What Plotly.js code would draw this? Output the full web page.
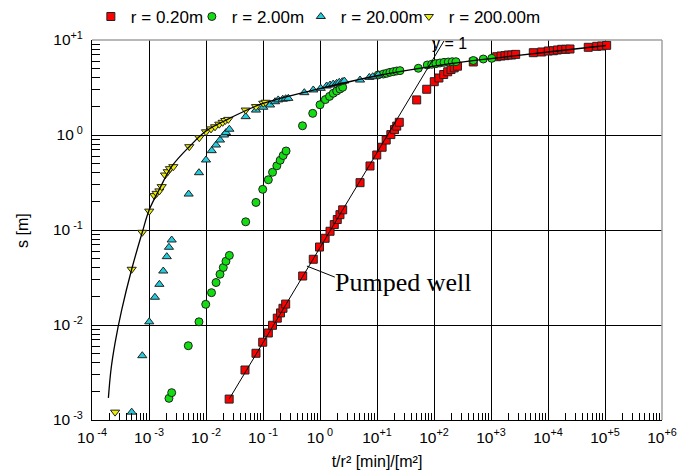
<!DOCTYPE html>
<html><head><meta charset="utf-8">
<script src="https://cdn.plot.ly/plotly-3.0.1.min.js"></script>
<style>html,body{margin:0;padding:0;background:#fff}#chart{width:678px;height:470px}</style>
</head><body><div id="chart"></div>
<script>
// r = 0.20 m (pumped well)
const redX = [0.0255, 0.0483, 0.0753, 0.0989, 0.124, 0.147, 0.178, 0.203, 0.224, 0.25, 0.497, 0.762, 0.98, 1.23, 1.50, 1.78, 2.01, 2.24, 2.50, 5.04, 7.54, 9.91, 12.3, 14.5, 17.5, 20.3, 22.2, 24.6, 49.7, 74.5, 101, 122, 148, 174, 199, 226, 258, 489, 1260, 1500, 1760, 2010, 2310, 2710, 5520, 7750, 10100, 12400, 14600, 17400, 20500, 24300, 50900, 71500, 87500, 107000];
const redY = [0.00166, 0.00336, 0.00504, 0.00659, 0.00824, 0.00993, 0.0118, 0.0134, 0.015, 0.0166, 0.0328, 0.0492, 0.0662, 0.0818, 0.097, 0.114, 0.129, 0.145, 0.163, 0.315, 0.472, 0.616, 0.743, 0.885, 1.01, 1.14, 1.24, 1.36, 2.34, 3.03, 3.64, 3.98, 4.33, 4.63, 4.89, 5.09, 5.30, 5.87, 6.67, 6.79, 6.84, 6.95, 6.95, 7.06, 7.35, 7.48, 7.66, 7.71, 7.85, 7.98, 7.98, 8.04, 8.38, 8.58, 8.65, 8.79];
// r = 2.00 m
const greenX = [0.00224, 0.0025, 0.00489, 0.00753, 0.00989, 0.0125, 0.015, 0.0176, 0.0201, 0.0224, 0.0257, 0.0497, 0.0753, 0.0989, 0.124, 0.147, 0.175, 0.2, 0.226, 0.254, 0.493, 0.745, 1.0, 1.24, 1.47, 1.71, 1.96, 2.24, 2.50, 10.5, 12.9, 14.8, 16.9, 19.3, 22.2, 25.3, 53.1, 76.2, 91.2, 108, 127, 150, 178, 209, 243, 489, 733, 1030];
const greenY = [0.00169, 0.00194, 0.00605, 0.0108, 0.0165, 0.0219, 0.028, 0.0342, 0.0403, 0.0469, 0.054, 0.122, 0.195, 0.268, 0.338, 0.405, 0.474, 0.542, 0.608, 0.679, 1.25, 1.69, 2.08, 2.36, 2.55, 2.75, 2.90, 3.05, 3.18, 4.29, 4.38, 4.46, 4.57, 4.64, 4.72, 4.76, 5.04, 5.46, 5.55, 5.64, 5.73, 5.82, 5.87, 5.91, 5.91, 6.08, 6.31, 6.41];
// r = 20.00 m
const cyanX = [0.000497, 0.000762, 0.00101, 0.00127, 0.00152, 0.00178, 0.00205, 0.00224, 0.0025, 0.00496, 0.00753, 0.01, 0.0126, 0.015, 0.0176, 0.0207, 0.0224, 0.0257, 0.0497, 0.0753, 0.101, 0.133, 0.163, 0.185, 0.222, 0.25, 0.278, 0.531, 0.762, 1.03, 1.31, 1.50, 1.71, 1.96, 2.18, 2.46, 2.67, 5.04, 7.33, 8.41, 10.5];
const cyanY = [0.00121, 0.00475, 0.0108, 0.0196, 0.0268, 0.037, 0.0524, 0.0658, 0.0785, 0.239, 0.401, 0.546, 0.684, 0.785, 0.885, 1.0, 1.06, 1.15, 1.56, 1.83, 1.96, 2.07, 2.24, 2.34, 2.38, 2.41, 2.43, 2.79, 2.98, 3.10, 3.28, 3.36, 3.44, 3.50, 3.59, 3.64, 3.70, 3.79, 4.04, 4.11, 4.29];
// r = 200.00 m
const yellowX = [0.000254, 0.000497, 0.000762, 0.00101, 0.00124, 0.00136, 0.00152, 0.00167, 0.00191, 0.00213, 0.00233, 0.00267, 0.00509, 0.00762, 0.01, 0.01225, 0.0144, 0.0171, 0.0196, 0.0218, 0.0246, 0.0497, 0.0753, 0.101, 0.111];
const yellowY = [0.00121, 0.0386, 0.0946, 0.158, 0.23, 0.243, 0.258, 0.286, 0.379, 0.411, 0.442, 0.464, 0.753, 0.937, 1.08, 1.16, 1.22, 1.30, 1.36, 1.42, 1.46, 1.83, 1.99, 2.16, 2.21];
// type curve
const curveX = [0.000194, 0.000215, 0.000254, 0.000332, 0.000497, 0.000762, 0.00101, 0.00156, 0.00254, 0.00504, 0.01, 0.0243, 0.1, 1, 10.4, 100, 1000, 10000, 104000];
const curveY = [0.00171, 0.00336, 0.00647, 0.0144, 0.0386, 0.0946, 0.163, 0.277, 0.472, 0.748, 1.10, 1.47, 2.15, 3.08, 4.23, 5.32, 6.38, 7.48, 8.75];
// unit-slope line through pumped-well early data
const slopeX = [0.0255, 150];
const slopeY = [0.00166, 9.8];

const seriesNames = ['r = 0.20m', 'r = 2.00m', 'r = 20.00m', 'r = 200.00m'];
const xTickVals = [1e-4, 1e-3, 1e-2, 1e-1, 1, 10, 100, 1e3, 1e4, 1e5, 1e6];
const xTickText = ['10<sup> -4</sup>', '10<sup> -3</sup>', '10<sup> -2</sup>', '10<sup> -1</sup>', '10<sup> 0</sup>', '10<sup>+1</sup>', '10<sup>+2</sup>', '10<sup>+3</sup>', '10<sup>+4</sup>', '10<sup>+5</sup>', '10<sup>+6</sup>'];
const yTickVals = [1e-3, 1e-2, 1e-1, 1, 10];
const yTickText = ['10<sup> -3</sup>', '10<sup> -2</sup>', '10<sup> -1</sup>', '10<sup> 0</sup>', '10<sup>+1</sup>'];

function minorTicks(d0, d1) {
  const v = [];
  for (let d = d0; d < d1; d++) for (let k = 2; k <= 9; k++) v.push(k * Math.pow(10, d));
  return v;
}

const FONT = 'Liberation Sans, Arial, sans-serif';
const mk = (sym, col) => ({symbol: sym, size: 8, color: col, line: {color: '#222', width: 1}});

const traces = [
  {x: redX, y: redY, name: seriesNames[0], mode: 'markers', type: 'scatter', legendwidth: 56, marker: mk('square', '#ff0000')},
  {x: greenX, y: greenY, name: seriesNames[1], mode: 'markers', type: 'scatter', legendwidth: 64, marker: mk('circle', '#11dd11')},
  {x: cyanX, y: cyanY, name: seriesNames[2], mode: 'markers', type: 'scatter', legendwidth: 63, marker: mk('triangle-up', '#22ccdd')},
  {x: yellowX, y: yellowY, name: seriesNames[3], mode: 'markers', type: 'scatter', legendwidth: 110, marker: mk('triangle-down', '#eeee00')},
  {x: curveX, y: curveY, mode: 'lines', type: 'scatter', showlegend: false, line: {color: '#000', width: 1.3, shape: 'spline', smoothing: 1}},
  {x: slopeX, y: slopeY, mode: 'lines', type: 'scatter', showlegend: false, line: {color: '#000', width: 1}}
];

const axisCommon = {
  type: 'log', tickmode: 'array', ticks: 'inside', ticklen: 9, tickcolor: '#000', tickwidth: 1,
  showgrid: true, gridcolor: '#000', gridwidth: 1, showline: true, linecolor: '#000', linewidth: 1,
  zeroline: false, mirror: false, tickfont: {family: FONT, size: 15.5, color: '#000'}
};

const layout = {
  width: 678, height: 470,
  margin: {l: 92, r: 16, t: 40, b: 50, autoexpand: false},
  paper_bgcolor: '#fff', plot_bgcolor: '#fff',
  font: {family: FONT, color: '#000'},
  showlegend: true,
  legend: {orientation: 'h', x: -0.002, xanchor: 'left', y: 1.108, yanchor: 'top',
    entrywidthmode: 'pixels', font: {family: FONT, size: 17, color: '#000'},
    bgcolor: 'rgba(0,0,0,0)'},
  xaxis: Object.assign({}, axisCommon, {
    range: [-4, 6], tickvals: xTickVals, ticktext: xTickText, ticklabelstandoff: 3,
    minor: {tickmode: 'array', tickvals: minorTicks(-4, 6), ticks: 'inside', ticklen: 7, tickcolor: '#000', showgrid: false},
    title: {text: 't/r² [min]/[m²]', font: {family: FONT, size: 16}, standoff: 12}
  }),
  yaxis: Object.assign({}, axisCommon, {
    range: [-3, 1], tickvals: yTickVals, ticktext: yTickText, ticklabelstandoff: 5,
    minor: {tickmode: 'array', tickvals: minorTicks(-3, 1), ticks: 'inside', ticklen: 8, tickcolor: '#000', showgrid: false}
  }),
  shapes: [
    {type: 'line', xref: 'paper', yref: 'paper', x0: 0, x1: 1, y0: 1, y1: 1, line: {color: '#a0a0a0', width: 1.5}, layer: 'above'},
    {type: 'line', xref: 'paper', yref: 'paper', x0: 1, x1: 1, y0: 0, y1: 1, line: {color: '#a0a0a0', width: 1.5}, layer: 'above'},
    {type: 'line', xref: 'paper', yref: 'paper', x0: 0.377, y0: 0.405, x1: 0.426, y1: 0.376, line: {color: '#000', width: 1}, layer: 'above'}
  ],
  annotations: [
    {xref: 'paper', yref: 'paper', x: -0.123, y: 0.5, text: 's [m]', textangle: -90, showarrow: false,
      font: {family: FONT, size: 16, color: '#000'}, xanchor: 'center', yanchor: 'middle'},
    {xref: 'paper', yref: 'paper', x: 0.628, y: 0.992, text: 'y = 1', showarrow: false,
      font: {family: FONT, size: 16, color: '#000'}, xanchor: 'center', yanchor: 'middle'},
    {xref: 'paper', yref: 'paper', x: 0.547, y: 0.363, text: 'Pumped well', showarrow: false,
      font: {family: 'Liberation Serif, Times New Roman, serif', size: 26, color: '#000'}, xanchor: 'center', yanchor: 'middle'}
  ]
};

Plotly.newPlot('chart', traces, layout, {displayModeBar: false, staticPlot: true});
</script>
</body></html>
